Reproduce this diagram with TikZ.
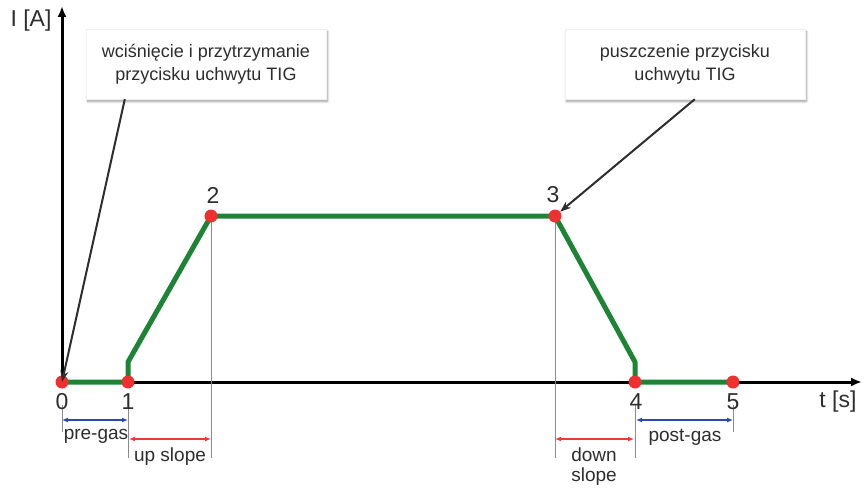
\documentclass[tikz,border=0pt]{standalone}
\usepackage{fontspec}
\setmainfont{Liberation Sans}
\usetikzlibrary{arrows.meta,shadows.blur}
\definecolor{curvegreen}{RGB}{28,132,52}
\definecolor{dotred}{RGB}{238,48,48}
\definecolor{spanblue}{RGB}{44,72,176}
\definecolor{spanred}{RGB}{240,56,56}
\definecolor{inkgray}{RGB}{45,45,45}
\begin{document}
\begin{tikzpicture}[x=1pt,y=-1pt,
    dot/.style={circle,fill=dotred,inner sep=0pt,minimum size=13pt},
    axis/.style={line width=3pt,-{Latex[length=11pt,width=9pt]}},
    curve/.style={line width=5pt,curvegreen,line join=round},
    guide/.style={line width=0.8pt,black!45},
    span/.style={line width=1.4pt,{Latex[length=6pt,width=5pt]}-{Latex[length=6pt,width=5pt]}},
    callout/.style={line width=2pt,inkgray,-{Stealth[length=11pt,width=8pt]}},
    note/.style={draw=black!6,fill=white,minimum width=240pt,minimum height=70pt,align=center,
      text=inkgray,font=\fontsize{18}{23}\selectfont,
      blur shadow={shadow xshift=1.5pt,shadow yshift=-2.5pt,shadow blur steps=10,shadow opacity=40}},
    num/.style={text=inkgray,font=\fontsize{23}{23}\selectfont},
    lbl/.style={text=inkgray,font=\fontsize{19}{20}\selectfont,align=center}]
  \useasboundingbox (0,0) rectangle (864,487);
  % axes
  \coordinate (o) at (62,382);
  \draw[axis] (o) -- (862,382);
  \draw[axis] (o) -- (62,6);
  \node[num] (ylbl) at (31,21) {I [A]};
  \node[num] (xlbl) at (838,402) {t [s]};
  % guides
  \coordinate (k0) at (62,382);
  \coordinate (k1) at (128,382);
  \coordinate (k2) at (211,216);
  \coordinate (k3) at (555,216);
  \coordinate (k4) at (635,382);
  \coordinate (k5) at (733,382);
  \draw[guide] (62,405) -- (62,432);
  \draw[guide] (128,405) -- (128,458);
  \draw[guide] (k2) -- (211,458);
  \draw[guide] (k3) -- (555,458);
  \draw[guide] (635,405) -- (635,458);
  \draw[guide] (733,405) -- (733,432);
  % current curve
  \draw[curve] (k0) -- (k1) -- (128,362) -- (k2) -- (k3) -- (635,362) -- (k4) -- (k5);
  \foreach \i in {0,...,5}
    \node[dot] (p\i) at (k\i) {};
  \node[num] at (62,402) {0};
  \node[num] at (128,402) {1};
  \node[num] at (213,195) {2};
  \node[num] at (553,195) {3};
  \node[num] at (636,402) {4};
  \node[num] at (733,402) {5};
  % spans
  \draw[span,spanblue] (62,420) -- (128,420);
  \node[lbl] (pregas) at (96,436) {pre-gas};
  \draw[span,spanred] (129,439) -- (211,439);
  \node[lbl] (upslope) at (170,457) {up slope};
  \draw[span,spanred] (555,439) -- (634,439);
  \node[lbl] (downslope) at (594,467) {down\\slope};
  \draw[span,spanblue] (636,420) -- (733,420);
  \node[lbl] (postgas) at (685,437) {post-gas};
  % callouts
  \node[note] (press) at (206,64) {wciśnięcie i przytrzymanie\\przycisku uchwytu TIG};
  \node[note] (release) at (685,64) {puszczenie przycisku\\uchwytu TIG};
  \draw[callout] ([xshift=39pt]press.south west) -- (p0.center);
  \draw[callout] ([xshift=130pt]release.south west) -- (p3);
\end{tikzpicture}
\end{document}
